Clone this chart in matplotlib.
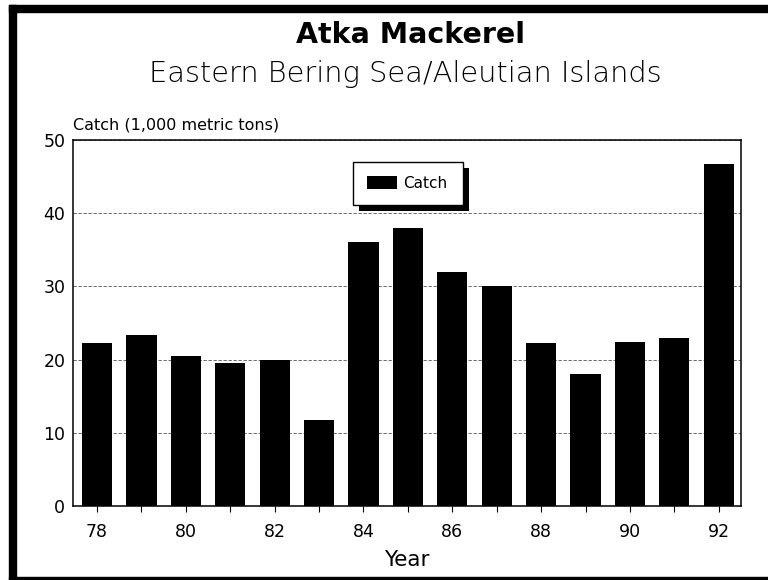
import matplotlib
matplotlib.use("Agg")
import matplotlib.pyplot as plt
import matplotlib.patheffects as pe
from matplotlib.patches import Rectangle

years = [78, 79, 80, 81, 82, 83, 84, 85, 86, 87, 88, 89, 90, 91, 92]
catch = [22.2, 23.3, 20.5, 19.6, 19.9, 11.75, 36.0, 38.0, 32.0, 30.05, 22.3, 18.1, 22.4, 23.0, 46.7]
label_years = [78, 80, 82, 84, 86, 88, 90, 92]
y_ticks = [0, 10, 20, 30, 40, 50]

plt.rcParams['font.family'] = ['DejaVu Sans']

W, H = 768, 580
fig = plt.figure(figsize=(W / 100, H / 100), dpi=100)
ax = fig.add_axes([73 / W, 1 - 506 / H, (741 - 73) / W, (506 - 140) / H])

ax.bar(years, catch, width=0.68, color='black', label='Catch', zorder=3)
ax.set_xlim(77.46, 92.5)
ax.set_ylim(0, 50)
ax.set_yticks(y_ticks)
ax.set_xticks(label_years)
ax.set_xticks(years, minor=True)
ax.tick_params(axis='x', which='both', direction='out', length=4, width=0.8, labelsize=12.5, pad=8)
ax.tick_params(axis='y', length=0, labelsize=12.5, pad=5.5)
ax.yaxis.grid(True, linestyle=(0, (4, 2)), linewidth=0.6, color='#555555')
ax.set_axisbelow(True)
for s in ax.spines.values():
    s.set_linewidth(1.1)

ax.set_xlabel('Year', fontsize=15.5, labelpad=6.5)
fig.text(73 / W, 1 - 130 / H, 'Catch (1,000 metric tons)', fontsize=11.5, ha='left', va='baseline')

fig.text(411 / W, 1 - 43.3 / H, 'Atka Mackerel', fontsize=20.5, fontweight='bold', ha='center', va='baseline')
fig.text(405 / W, 1 - 81.7 / H, 'Eastern Bering Sea/Aleutian Islands', fontsize=20.8, ha='center',
         va='baseline', fontweight='light')

x0 = (352.7 - 73) / (741 - 73)
wbox = 110.6 / (741 - 73)
y0 = (506 - 206.7) / (506 - 140)
hbox = 45 / (506 - 140)
leg = ax.legend(loc='upper left', bbox_to_anchor=(x0, y0, wbox, hbox), mode='expand',
                fancybox=False, frameon=True, edgecolor='black', framealpha=1, fontsize=11,
                handlelength=1.96, handleheight=0.92, borderpad=0.92, handletextpad=0.41, borderaxespad=0)
leg.get_frame().set_linewidth(1.0)
leg.get_frame().set_path_effects([pe.SimplePatchShadow(offset=(4.3, -4.5), shadow_rgbFace='black', alpha=1.0),
                                  pe.Normal()])

# outer frame
fig.patches.append(Rectangle((9 / W, 0), 7 / W, 1 - 5 / H, transform=fig.transFigure, color='black'))
fig.patches.append(Rectangle((9 / W, 1 - 12 / H), 1 - 9 / W, 7 / H, transform=fig.transFigure, color='black'))
fig.patches.append(Rectangle((9 / W, 1 - 579 / H), 1 - 9 / W, 2 / H, transform=fig.transFigure, color='black'))

fig.savefig('out.png', dpi=100)
